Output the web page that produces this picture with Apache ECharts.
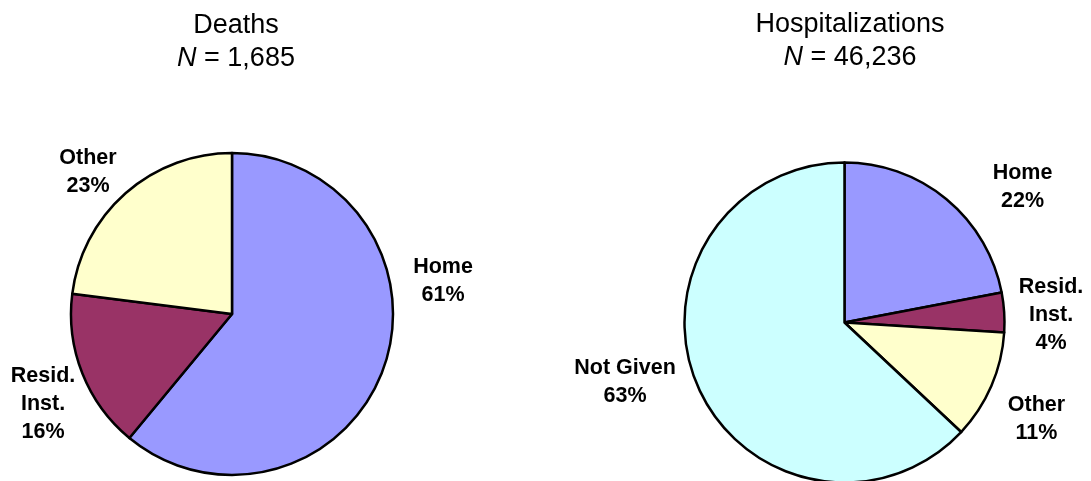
<!DOCTYPE html>
<html>
<head>
<meta charset="utf-8">
<script src="https://cdn.jsdelivr.net/npm/echarts@6/dist/echarts.min.js"></script>
<style>
html,body{margin:0;padding:0;background:#fff;}
#chart{width:1091px;height:481px;}
</style>
</head>
<body>
<div id="chart"></div>
<script>
// ---- data ----
var deathCategories = ['Home', 'Resid.\nInst.', 'Other'];
var deathValues = [61, 16, 23];
var hospCategories = ['Home', 'Resid.\nInst.', 'Other', 'Not Given'];
var hospValues = [22, 4, 11, 63];
var titles = ['Deaths', 'Hospitalizations'];
var totals = ['1,685', '46,236'];

// ---- layout / style ----
var FONT = '"Liberation Sans", Arial, sans-serif';
var colorMap = { 'Home': '#9999FF', 'Resid.\nInst.': '#993366', 'Other': '#FFFFCC', 'Not Given': '#CCFFFF' };
var pieCenters = [[232, 314], [844.5, 322.5]];
var pieRadii = [161, 160];
var titleCenters = [[236, 9], [850, 8]];
// label block centres relative to pie centre
var labelOffsets = [
  [[211, -33], [-189, 90], [-144, -142]],
  [[178, -135.5], [206.5, -7.5], [192, 96.5], [-219.5, 59.5]]
];

function buildData(cats, vals) {
  return cats.map(function (c, i) {
    return { name: c, value: vals[i], itemStyle: { color: colorMap[c] } };
  });
}

function makeTitle(i) {
  return {
    text: '{a|' + titles[i] + '}\n{i|N}{a| = ' + totals[i] + '}',
    left: titleCenters[i][0],
    top: titleCenters[i][1],
    textAlign: 'center',
    padding: 0,
    textStyle: {
      rich: {
        a: { fontFamily: FONT, fontSize: 27, color: '#000', lineHeight: 33, fontWeight: 'normal' },
        i: { fontFamily: FONT, fontSize: 27, color: '#000', lineHeight: 33, fontStyle: 'italic', fontWeight: 'normal' }
      }
    }
  };
}

function makePie(i, cats, vals) {
  return {
    type: 'pie',
    center: pieCenters[i],
    radius: pieRadii[i],
    startAngle: 90,
    clockwise: true,
    animation: false,
    silent: true,
    avoidLabelOverlap: false,
    data: buildData(cats, vals),
    itemStyle: { borderColor: '#000', borderWidth: 2.5 },
    label: {
      show: true,
      position: 'outside',
      formatter: '{b}\n{c}%',
      fontFamily: FONT,
      fontSize: 21.5,
      fontWeight: 'bold',
      color: '#000',
      lineHeight: 28,
      align: 'center',
      overflow: 'none',
      edgeDistance: 0
    },
    labelLine: { show: false },
    labelLayout: function (params) {
      var off = labelOffsets[i][params.dataIndex];
      return {
        x: pieCenters[i][0] + off[0],
        y: pieCenters[i][1] + off[1],
        align: 'center',
        verticalAlign: 'middle',
        hideOverlap: false
      };
    }
  };
}

var chart = echarts.init(document.getElementById('chart'), null, { renderer: 'canvas' });
chart.setOption({
  backgroundColor: '#fff',
  animation: false,
  title: [makeTitle(0), makeTitle(1)],
  series: [makePie(0, deathCategories, deathValues), makePie(1, hospCategories, hospValues)]
});
</script>
</body>
</html>
